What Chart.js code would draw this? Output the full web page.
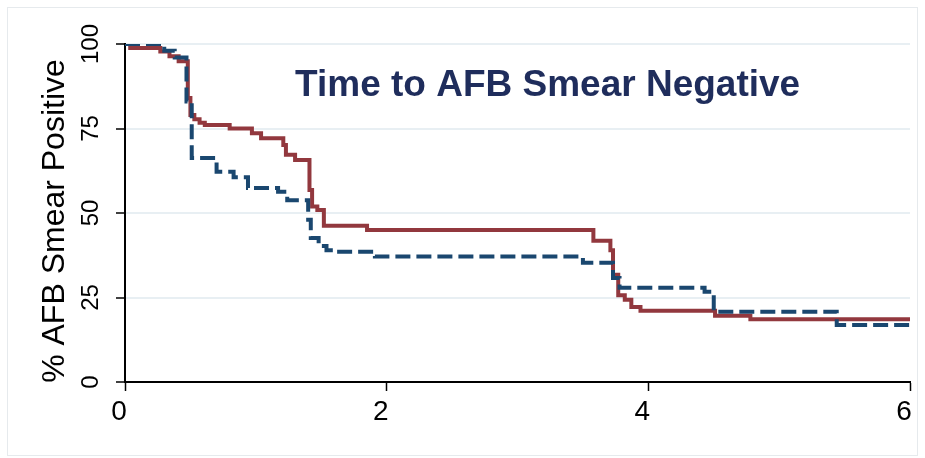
<!DOCTYPE html>
<html>
<head>
<meta charset="utf-8">
<script src="https://cdn.jsdelivr.net/npm/chart.js@4.4.0/dist/chart.umd.min.js"></script>
<style>
  html, body { margin: 0; padding: 0; background: #fff; }
  #wrap { width: 925px; height: 458px; position: relative; }
</style>
</head>
<body>
<div id="wrap"><canvas id="km"></canvas></div>
<script>
// Kaplan-Meier steps (time, % still smear positive)
const redTimes = [0, 0.04, 0.27, 0.34, 0.41, 0.48, 0.50, 0.53, 0.57, 0.61, 0.80, 0.97, 1.04, 1.21, 1.23, 1.30, 1.41, 1.43, 1.47, 1.52, 1.85, 3.58, 3.71, 3.73, 3.77, 3.82, 3.87, 3.94, 4.51, 4.78, 6.0];
const redSurv  = [100, 98.8, 97.8, 96.4, 94.9, 84, 79, 77.7, 76.7, 76, 75, 73.6, 72.1, 70.1, 67.2, 65.7, 56.8, 51.9, 50.9, 46.2, 45, 41.8, 39, 31.7, 25.7, 24.3, 22.2, 21.1, 19.6, 18.6, 18.6];

const blueTimes = [0, 0.30, 0.38, 0.47, 0.51, 0.70, 0.83, 0.94, 1.17, 1.24, 1.40, 1.42, 1.48, 1.54, 1.59, 1.91, 3.50, 3.73, 3.78, 4.43, 4.50, 5.44, 6.0];
const blueSurv  = [100, 98, 96, 83, 66.3, 62.2, 60.6, 57.4, 56.3, 53.8, 48, 42.6, 40.2, 39, 38.5, 37.1, 35.3, 30.8, 27.9, 26.7, 20.8, 16.9, 16.9];

const xTicks = [0, 2, 4, 6];
const yTicks = [0, 25, 50, 75, 100];
const chartTitle = "Time to AFB Smear Negative";
const yTitle = "% AFB Smear Positive";

const FONT = "'Liberation Sans', Arial, sans-serif";

function toPoints(ts, ss) {
  return ts.map((t, i) => ({ x: t, y: ss[i] }));
}

// white page + thin outer frame, like the exported graph region
const frame = {
  id: "frame",
  beforeDraw(chart) {
    const c = chart.ctx;
    c.save();
    c.fillStyle = "#fff";
    c.fillRect(0, 0, chart.width, chart.height);
    c.strokeStyle = "#e6eaed";
    c.lineWidth = 1;
    c.strokeRect(7.5, 7.5, chart.width - 15, chart.height - 10);
    c.restore();
  }
};

// title inside the plot region, y-axis title drawn by hand so it can sit a bit low
const texts = {
  id: "texts",
  afterDatasetsDraw(chart) {
    const c = chart.ctx;
    const xs = chart.scales.x, ys = chart.scales.y;
    c.save();
    c.font = "bold 37px " + FONT;
    c.fillStyle = "#1f2d5c";
    c.textAlign = "center";
    c.textBaseline = "middle";
    c.fillText(chartTitle, xs.getPixelForValue(3.23), ys.getPixelForValue(87.6));

    c.font = "32px " + FONT;
    c.fillStyle = "#000";
    c.translate(55, (ys.top + ys.bottom) / 2 + 8);
    c.rotate(-Math.PI / 2);
    c.fillText(yTitle, 0, 0);
    c.restore();
  }
};

new Chart(document.getElementById("km"), {
  type: "line",
  data: {
    datasets: [
      {
        label: "Group B",
        data: toPoints(blueTimes, blueSurv),
        borderColor: "#1a476f",
        borderWidth: 4,
        borderDash: [15, 6],
        stepped: true,
        pointRadius: 0,
        fill: false
      },
      {
        label: "Group A",
        data: toPoints(redTimes, redSurv),
        borderColor: "#92383e",
        borderWidth: 4,
        stepped: true,
        pointRadius: 0,
        fill: false
      }
    ]
  },
  options: {
    responsive: true,
    maintainAspectRatio: false,
    animation: false,
    layout: { padding: { top: 44, right: 15, left: 0, bottom: 0 } },
    plugins: {
      legend: { display: false },
      tooltip: { enabled: false }
    },
    scales: {
      x: {
        type: "linear",
        min: 0,
        max: 6,
        afterBuildTicks: (s) => { s.ticks = xTicks.map(v => ({ value: v })); },
        afterFit: (s) => { s.height = 76; },
        border: { display: true, color: "#000", width: 2 },
        grid: { drawOnChartArea: false, tickColor: "#000", tickLength: 9, tickWidth: 1.5 },
        ticks: { color: "#000", font: { family: FONT, size: 28 }, padding: 4, maxRotation: 0, labelOffset: -6 }
      },
      y: {
        min: 0,
        max: 100,
        afterBuildTicks: (s) => { s.ticks = yTicks.map(v => ({ value: v })); },
        afterFit: (s) => { s.width = 125; },
        border: { display: true, color: "#000", width: 2 },
        grid: {
          color: (ctx) => ctx.tick && ctx.tick.value === 0 ? "rgba(0,0,0,0)" : "#e8eff3",
          lineWidth: 2,
          tickColor: "#000",
          tickLength: 9,
          tickWidth: 1.5
        },
        ticks: {
          color: "#000",
          font: { family: FONT, size: 24 },
          minRotation: 90,
          maxRotation: 90,
          crossAlign: "center",
          padding: 5
        }
      }
    }
  },
  plugins: [frame, texts]
});
</script>
</body>
</html>
